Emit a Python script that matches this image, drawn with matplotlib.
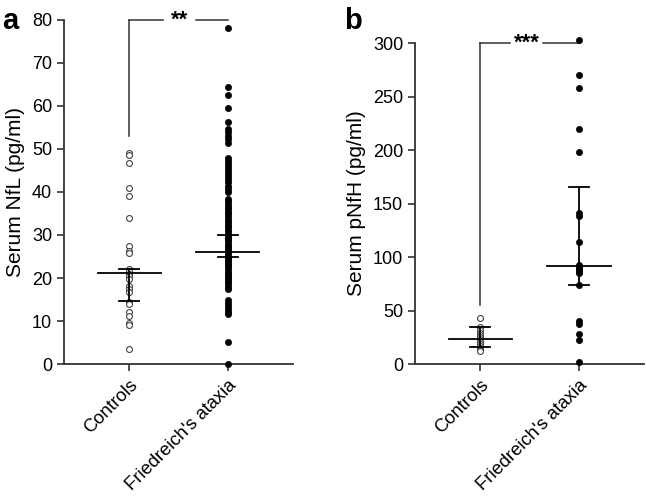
import matplotlib
matplotlib.use("Agg")
import matplotlib.pyplot as plt

plt.rcParams['font.family'] = ['Liberation Sans', 'DejaVu Sans']

groups = ["Controls", "Friedreich's ataxia"]

# Panel a: serum NfL (pg/ml)
nfl_controls = [49.0, 48.6, 46.8, 41.0, 39.1, 33.9, 27.4, 26.3, 25.7, 22.2, 21.6,
                21.0, 20.4, 19.7, 18.2, 17.4, 16.8, 14.5, 14.0, 12.1, 11.2, 9.6,
                9.1, 3.5]
nfl_fa = [78.1, 64.3, 62.6, 59.5, 56.2, 54.6, 53.9, 53.0, 52.3, 51.5,
          48.0, 47.3, 46.6, 45.9, 45.2, 44.5, 43.8, 43.1, 42.4, 41.4, 40.7, 40.1,
          38.4, 37.8, 37.2, 36.6, 36.0, 35.4, 34.8, 34.2, 33.6, 33.0, 32.4,
          31.8, 31.2, 30.6, 30.0, 29.5, 29.0, 28.5, 28.0, 27.5, 27.0, 26.5,
          26.0, 25.5, 25.0, 24.5, 24.0, 23.5, 23.0, 22.5, 22.0, 21.5, 21.0,
          20.5, 20.0, 19.5, 19.0, 18.5, 18.0, 17.4,
          15.0, 14.3, 13.6, 12.9, 12.2, 11.6, 5.2, 0.0]
nfl_median = [21.2, 26.1]
nfl_ci_low = [14.7, 24.8]
nfl_ci_high = [22.2, 29.9]

# Panel b: serum pNfH (pg/ml)
pnfh_controls = [43, 35, 32, 29, 27, 25, 23, 21, 19, 17, 15, 13, 12]
pnfh_fa = [303, 270, 258, 220, 198, 141, 138, 114, 93, 91, 89, 87, 85,
           74, 40, 37, 28, 22, 2]
pnfh_median = [23.0, 91.5]
pnfh_ci_low = [16.0, 74.0]
pnfh_ci_high = [34.5, 165.5]

AX_COLOR = '#333333'


def draw_panel(ax, ctrl, fa, med, lo, hi, ylim, yticks, ylabel, stars, star_x, bracket_low):
    ax.scatter([0] * len(ctrl), ctrl, s=18, facecolor='white', edgecolor='#444444',
               linewidth=0.8, zorder=3, clip_on=False)
    ax.scatter([1] * len(fa), fa, s=20, facecolor='black', edgecolor='black',
               linewidth=0.5, zorder=3, clip_on=False)

    for i in range(2):
        ax.plot([i - 0.32, i + 0.32], [med[i], med[i]], color='black', lw=1.3, zorder=4)
        ax.plot([i, i], [lo[i], hi[i]], color='black', lw=1.3, zorder=4)
        for v in (lo[i], hi[i]):
            ax.plot([i - 0.1, i + 0.1], [v, v], color='black', lw=1.3, zorder=4)

    # significance bracket
    top = ylim[1]
    kw = dict(color=AX_COLOR, lw=1.1, clip_on=False)
    ax.plot([0, 0], [bracket_low, top], **kw)
    ax.plot([0, star_x - 0.17], [top, top], **kw)
    ax.plot([star_x + 0.17, 1], [top, top], **kw)
    ax.text(star_x, top, stars, ha='center', va='center', fontsize=16,
            fontweight='bold', color='black')

    ax.set_xlim(-0.66, 1.66)
    ax.set_ylim(*ylim)
    ax.set_yticks(yticks)
    ax.set_xticks([0, 1])
    ax.set_xticklabels(groups, rotation=45, ha='right', rotation_mode='anchor')
    ax.set_ylabel(ylabel, fontsize=15, color='black', labelpad=5)

    for s in ('top', 'right'):
        ax.spines[s].set_visible(False)
    for s in ('left', 'bottom'):
        ax.spines[s].set_color(AX_COLOR)
        ax.spines[s].set_linewidth(1.3)
    ax.tick_params(axis='both', direction='out', length=5, width=1.2,
                   color=AX_COLOR, labelsize=13, labelcolor='black')
    ax.tick_params(axis='x', pad=4, labelsize=13.2)


fig = plt.figure(figsize=(6.46, 4.99), dpi=100)

ax_a = fig.add_axes([0.099, 0.2705, 0.3546, 0.6895])
draw_panel(ax_a, nfl_controls, nfl_fa, nfl_median, nfl_ci_low, nfl_ci_high,
           (0, 80), range(0, 81, 10), 'Serum NfL (pg/ml)', '**', 0.51, 53)

ax_b = fig.add_axes([0.6424, 0.2705, 0.355, 0.6433])
draw_panel(ax_b, pnfh_controls, pnfh_fa, pnfh_median, pnfh_ci_low, pnfh_ci_high,
           (0, 300), range(0, 301, 50), 'Serum pNfH (pg/ml)', '***', 0.47, 55)

fig.text(0.003, 0.985, 'a', fontsize=21, fontweight='bold', va='top', ha='left')
fig.text(0.532, 0.985, 'b', fontsize=21, fontweight='bold', va='top', ha='left')

fig.savefig('out.png', dpi=100)
